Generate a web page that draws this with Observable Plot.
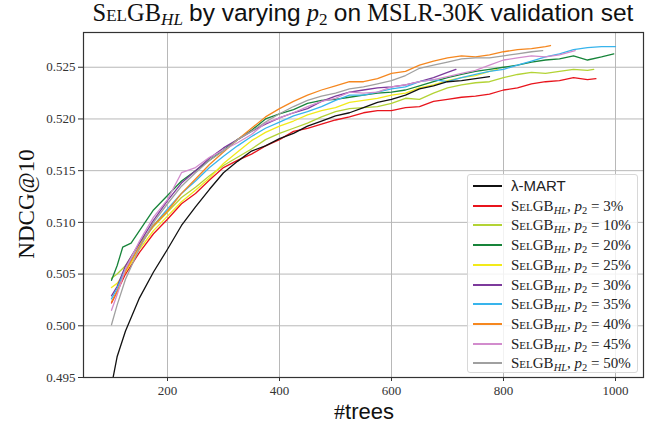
<!DOCTYPE html>
<html>
<head>
<meta charset="utf-8">
<script src="https://cdn.jsdelivr.net/npm/d3@7"></script>
<script src="https://cdn.jsdelivr.net/npm/@observablehq/plot@0.6"></script>
<style>
  body { margin: 0; background: #fff; }
  #wrap { position: relative; width: 650px; height: 432px; overflow: hidden; }
  #title { position: absolute; left: 83px; width: 560px; top: -1px; text-align: center; font-size: 24.5px; color: #111; white-space: nowrap; }
  .serif { font-family: "Liberation Serif", serif; }
  .sans { font-family: "Liberation Sans", "DejaVu Sans", sans-serif; }
  .sc { font-variant: small-caps; }
  #chart { position: absolute; left: 0; top: 30px; }
  #ylabel { position: absolute; left: 27px; top: 204px; transform: translate(-50%, -50%) rotate(-90deg); font-size: 23px; white-space: nowrap; color: #111; }
  #xlabel { position: absolute; left: 364px; top: 412px; transform: translate(-50%, -50%); font-size: 22px; white-space: nowrap; color: #111; }
  #legend { position: absolute; left: 467px; top: 174px; width: 171px; height: 199px; border: 1px solid #d8d8d8; border-radius: 3px; background: rgba(255,255,255,0.82); box-sizing: border-box; }
  .row { position: absolute; left: 0; height: 20px; width: 170px; }
  .swatch { position: absolute; left: 5px; top: 9px; width: 29px; height: 2px; }
  .lab { position: absolute; left: 43px; top: 0px; font-size: 15px; line-height: 20px; white-space: nowrap; color: #222; }
  sub { font-size: 0.7em; vertical-align: -0.25em; line-height: 0; }
</style>
</head>
<body>
<div id="wrap">
  <div id="title"><span class="serif"><span class="sc">SelGB</span><sub><i>HL</i></sub></span> <span class="sans">by varying</span> <span class="serif"><i>p</i><sub>2</sub></span> <span class="sans">on</span> <span class="serif">MSLR-30K</span> <span class="sans">validation set</span></div>
  <div id="chart"></div>
  <div id="ylabel" class="serif">NDCG@10</div>
  <div id="xlabel"><span class="serif">#</span><span class="sans">trees</span></div>
  <div id="legend"></div>
</div>
<script>
// ---- data ----
const seriesNames = ["λ-MART", "3%", "10%", "20%", "25%", "30%", "35%", "40%", "45%", "50%"];
const seriesColors = ["#111111", "#e8141c", "#b3d335", "#17843a", "#f2ea1a", "#7d3a9c", "#38b4ec", "#f5871f", "#d28ccd", "#a0a0a0"];

const treesMart = [100,110,125,150,175,200,225,250,275,300,325,350,375,400,425,450,475,500,525,550,575,600,625,650,675,700,725,750,775];
const ndcgMart  = [0.4942,0.4970,0.4995,0.5027,0.5052,0.5074,0.5097,0.5115,0.5132,0.5148,0.5159,0.5169,0.5174,0.5181,0.5186,0.5193,0.5198,0.5203,0.5206,0.5211,0.5216,0.5219,0.5223,0.5229,0.5232,0.5236,0.5237,0.5239,0.5241];

const trees03 = [100,110,125,150,175,200,225,250,275,300,325,350,375,400,425,450,475,500,525,550,575,600,625,650,675,700,725,750,775,800,825,850,875,900,925,950,965];
const ndcg03  = [0.5022,0.5033,0.5050,0.5071,0.5089,0.5103,0.5118,0.5128,0.5141,0.5153,0.5160,0.5166,0.5174,0.5180,0.5188,0.5191,0.5195,0.5199,0.5202,0.5206,0.5208,0.5208,0.5211,0.5212,0.5217,0.5219,0.5221,0.5222,0.5224,0.5228,0.5230,0.5234,0.5236,0.5237,0.5240,0.5238,0.5239];

const trees10 = [100,110,125,150,175,200,225,250,275,300,325,350,375,400,425,450,475,500,525,550,575,600,625,650,675,700,725,750,775,800,825,850,875,900,925,950,961];
const ndcg10  = [0.5046,0.5050,0.5058,0.5080,0.5096,0.5110,0.5124,0.5134,0.5145,0.5155,0.5163,0.5171,0.5180,0.5186,0.5191,0.5196,0.5202,0.5207,0.5210,0.5211,0.5212,0.5215,0.5220,0.5219,0.5225,0.5230,0.5233,0.5235,0.5236,0.5240,0.5243,0.5245,0.5244,0.5246,0.5248,0.5247,0.5248];

const trees20 = [100,110,120,135,150,175,200,225,250,275,300,325,350,375,400,425,450,475,500,525,550,575,600,625,650,675,700,725,750,775,800,825,850,875,900,925,950,975,997];
const ndcg20  = [0.5044,0.5058,0.5076,0.5080,0.5092,0.5112,0.5126,0.5140,0.5150,0.5160,0.5170,0.5180,0.5189,0.5200,0.5205,0.5209,0.5215,0.5218,0.5219,0.5221,0.5223,0.5225,0.5226,0.5228,0.5232,0.5236,0.5240,0.5243,0.5246,0.5248,0.5250,0.5252,0.5255,0.5257,0.5258,0.5261,0.5257,0.5260,0.5263];

const trees25 = [100,110,125,150,175,200,225,250,275,300,325,350,375,400,425,450,475,500,525,550,575,600,625,650,675,700,725,750,775,790];
const ndcg25  = [0.5037,0.5041,0.5052,0.5074,0.5092,0.5106,0.5120,0.5131,0.5143,0.5157,0.5168,0.5179,0.5187,0.5193,0.5198,0.5204,0.5208,0.5211,0.5216,0.5218,0.5220,0.5223,0.5225,0.5230,0.5233,0.5237,0.5240,0.5242,0.5246,0.5248];

const trees30 = [100,110,125,150,175,200,225,250,275,300,325,350,375,400,425,450,475,500,525,550,575,600,625,650,675,700,715];
const ndcg30  = [0.5029,0.5038,0.5058,0.5080,0.5102,0.5121,0.5138,0.5150,0.5162,0.5172,0.5180,0.5188,0.5195,0.5201,0.5206,0.5210,0.5217,0.5222,0.5226,0.5228,0.5230,0.5231,0.5233,0.5236,0.5240,0.5245,0.5248];

const trees35 = [100,110,125,150,175,200,225,250,275,300,325,350,375,400,425,450,475,500,525,550,575,600,625,650,675,700,725,750,775,800,825,850,875,900,925,950,975,1000];
const ndcg35  = [0.5026,0.5036,0.5055,0.5077,0.5097,0.5113,0.5128,0.5140,0.5153,0.5164,0.5174,0.5183,0.5191,0.5197,0.5203,0.5207,0.5212,0.5218,0.5223,0.5223,0.5226,0.5229,0.5231,0.5236,0.5238,0.5236,0.5240,0.5243,0.5246,0.5248,0.5252,0.5256,0.5260,0.5263,0.5267,0.5269,0.5270,0.5270];

const trees40 = [100,110,125,150,175,200,225,250,275,300,325,350,375,400,425,450,475,500,525,550,575,600,625,650,675,700,725,750,775,800,825,850,875,884];
const ndcg40  = [0.5023,0.5033,0.5053,0.5077,0.5097,0.5111,0.5128,0.5142,0.5156,0.5168,0.5180,0.5191,0.5202,0.5210,0.5217,0.5223,0.5228,0.5232,0.5236,0.5236,0.5239,0.5244,0.5246,0.5252,0.5256,0.5259,0.5261,0.5260,0.5262,0.5265,0.5267,0.5268,0.5270,0.5271];

const trees45 = [100,110,125,150,175,200,225,250,275,300,325,350,375,400,425,450,475,500,525,550,575,600,625,650,675,700,725,750,775,800,825,850,875,900,928];
const ndcg45  = [0.5015,0.5030,0.5055,0.5082,0.5105,0.5122,0.5148,0.5153,0.5163,0.5170,0.5177,0.5185,0.5196,0.5201,0.5206,0.5212,0.5217,0.5220,0.5226,0.5225,0.5226,0.5231,0.5233,0.5236,0.5238,0.5241,0.5244,0.5247,0.5252,0.5257,0.5259,0.5261,0.5260,0.5262,0.5266];

const trees50 = [100,110,125,150,175,200,225,250,275,300,325,350,375,400,425,450,475,500,525,550,575,600,625,650,675,700,725,750,775,800,825,850,870];
const ndcg50  = [0.5001,0.5020,0.5045,0.5075,0.5100,0.5118,0.5135,0.5148,0.5160,0.5169,0.5180,0.5188,0.5197,0.5205,0.5212,0.5218,0.5222,0.5225,0.5229,0.5231,0.5234,0.5237,0.5242,0.5249,0.5252,0.5255,0.5258,0.5259,0.5259,0.5261,0.5263,0.5265,0.5266];

const xTicks = [200, 400, 600, 800, 1000];
const yTicks = [0.495, 0.500, 0.505, 0.510, 0.515, 0.520, 0.525];

// ---- build table ----
const treesList = [treesMart, trees03, trees10, trees20, trees25, trees30, trees35, trees40, trees45, trees50];
const ndcgList  = [ndcgMart, ndcg03, ndcg10, ndcg20, ndcg25, ndcg30, ndcg35, ndcg40, ndcg45, ndcg50];
const rows = [];
seriesNames.forEach((name, i) => {
  treesList[i].forEach((t, j) => rows.push({series: name, trees: t, ndcg: ndcgList[i][j]}));
});

const drawOrder = [1, 2, 3, 4, 5, 6, 7, 8, 9, 0];

const marks = [
  Plot.gridX(xTicks, {stroke: "#b8b8b8", strokeOpacity: 1, strokeWidth: 1}),
  Plot.gridY(yTicks, {stroke: "#b8b8b8", strokeOpacity: 1, strokeWidth: 1}),
];
drawOrder.forEach(i => {
  marks.push(Plot.line(rows.filter(d => d.series === seriesNames[i]), {
    x: "trees", y: "ndcg", stroke: seriesColors[i], strokeWidth: 1.3, clip: true
  }));
});
marks.push(Plot.frame({stroke: "#333", strokeWidth: 1.2}));
marks.push(Plot.axisX(xTicks, {tickSize: 4, tickPadding: 4, label: null, fontSize: 13, tickFormat: d3.format("d")}));
marks.push(Plot.axisY(yTicks, {tickSize: 5, tickPadding: 3, label: null, tickFormat: d3.format(".3f"), fontSize: 13}));

const chart = Plot.plot({
  width: 650,
  height: 402,
  marginTop: 2,
  marginBottom: 55,
  marginLeft: 83,
  marginRight: 7,
  style: {fontFamily: "Liberation Serif, serif", fontSize: "13px", color: "#333", background: "transparent"},
  x: {domain: [50, 1050]},
  y: {domain: [0.495, 0.52836]},
  marks
});
document.getElementById("chart").appendChild(chart);

// ---- legend ----
const legend = document.getElementById("legend");
seriesNames.forEach((name, i) => {
  const row = document.createElement("div");
  row.className = "row";
  row.style.top = (1 + i * 19.7) + "px";
  const sw = document.createElement("div");
  sw.className = "swatch";
  sw.style.background = seriesColors[i];
  const lab = document.createElement("div");
  lab.className = "lab";
  if (i === 0) {
    lab.innerHTML = '<span class="sans">' + name + '</span>';
  } else {
    lab.innerHTML = '<span class="serif"><span class="sc">SelGB</span><sub><i>HL</i></sub>, <i>p</i><sub>2</sub> = ' + name + '</span>';
  }
  row.appendChild(sw);
  row.appendChild(lab);
  legend.appendChild(row);
});
</script>
</body>
</html>
